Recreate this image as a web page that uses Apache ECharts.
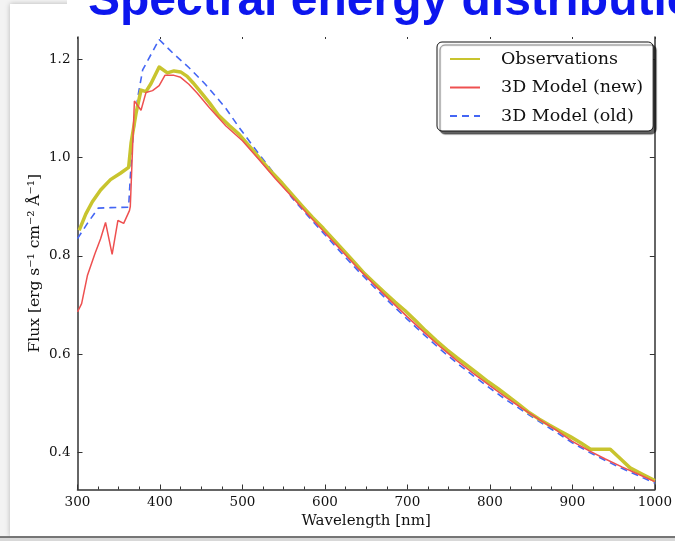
<!DOCTYPE html>
<html>
<head>
<meta charset="utf-8">
<script src="https://cdn.jsdelivr.net/npm/echarts@6/dist/echarts.min.js"></script>
<style>
html,body{margin:0;padding:0;background:#fff;}
#chart{width:675px;height:541px;}
</style>
</head>
<body>
<div id="chart"></div>
<script>
// ---- data ----
const titleText = 'Spectral energy distribution';
const xTicks = [300, 400, 500, 600, 700, 800, 900, 1000];
const yTicks = [0.4, 0.6, 0.8, 1.0, 1.2];
const seriesNames = ['Observations', '3D Model (new)', '3D Model (old)'];

const obsWave = [302, 310, 318, 328, 340, 352, 362, 365, 371, 377, 383, 389, 399, 409, 417, 425, 433, 440, 450, 460, 471, 484, 496, 510, 522, 535, 548, 560, 572, 585, 598, 610, 622, 635, 648, 660, 672, 685, 697, 710, 722, 735, 748, 760, 772, 785, 798, 810, 822, 835, 848, 860, 872, 885, 898, 910, 922, 934, 946, 958, 970, 985, 1000];
const obsFlux = [0.852, 0.885, 0.910, 0.934, 0.955, 0.968, 0.980, 1.030, 1.090, 1.137, 1.134, 1.150, 1.184, 1.172, 1.176, 1.174, 1.165, 1.152, 1.132, 1.111, 1.086, 1.065, 1.047, 1.020, 0.996, 0.971, 0.948, 0.925, 0.902, 0.878, 0.856, 0.834, 0.812, 0.788, 0.764, 0.745, 0.726, 0.706, 0.689, 0.668, 0.648, 0.628, 0.609, 0.593, 0.578, 0.561, 0.544, 0.530, 0.515, 0.498, 0.481, 0.468, 0.456, 0.444, 0.432, 0.420, 0.407, 0.407, 0.407, 0.388, 0.369, 0.356, 0.343];

const newWave = [300, 305, 312, 321, 328, 334, 342, 349, 356, 363, 364, 369, 377, 383, 391, 399, 406, 417, 425, 435, 445, 460, 480, 500, 520, 540, 560, 580, 600, 620, 640, 660, 680, 700, 720, 740, 760, 780, 800, 820, 840, 860, 880, 900, 920, 940, 960, 980, 1000];
const newFlux = [0.686, 0.703, 0.760, 0.804, 0.835, 0.868, 0.803, 0.872, 0.866, 0.892, 0.900, 1.115, 1.096, 1.132, 1.136, 1.146, 1.167, 1.167, 1.163, 1.149, 1.131, 1.101, 1.064, 1.034, 0.996, 0.957, 0.920, 0.883, 0.847, 0.811, 0.775, 0.741, 0.708, 0.676, 0.645, 0.615, 0.587, 0.561, 0.536, 0.512, 0.489, 0.467, 0.446, 0.423, 0.404, 0.387, 0.371, 0.356, 0.341];

const oldWave = [300, 312, 325, 340, 362, 364, 367, 373, 379, 399, 417, 435, 455, 479, 496, 520, 545, 560, 580, 600, 620, 640, 660, 680, 700, 720, 740, 760, 780, 800, 820, 840, 860, 880, 900, 920, 940, 960, 980, 1000];
const oldFlux = [0.835, 0.866, 0.897, 0.898, 0.899, 0.960, 1.034, 1.122, 1.178, 1.240, 1.210, 1.183, 1.149, 1.102, 1.061, 1.007, 0.953, 0.918, 0.880, 0.843, 0.806, 0.770, 0.736, 0.703, 0.671, 0.640, 0.610, 0.582, 0.556, 0.531, 0.507, 0.485, 0.463, 0.442, 0.420, 0.401, 0.384, 0.368, 0.353, 0.338];

const pairs = (xs, ys) => xs.map((x, i) => [x, ys[i]]);

const serif = '"DejaVu Serif", serif';
const axisCol = '#333';
const yMin = 0.325, yMax = 1.245;

const chart = echarts.init(document.getElementById('chart'), null, {renderer: 'canvas'});
chart.setOption({
  backgroundColor: '#f3f3f3',
  animation: false,
  graphic: [
    {type: 'rect', z: -10, shape: {x: 10, y: 4, width: 670, height: 532}, style: {fill: '#fff', shadowBlur: 5, shadowColor: 'rgba(0,0,0,0.25)'}},
    {type: 'rect', z: -9, shape: {x: 67, y: 0, width: 610, height: 36}, style: {fill: '#fff'}},
    {type: 'rect', z: -9, shape: {x: 0, y: 537, width: 675, height: 4}, style: {fill: '#d8d8d8'}},
    {type: 'line', z: -8, shape: {x1: 0, y1: 537, x2: 675, y2: 537}, style: {stroke: '#555', lineWidth: 1.5}},
    {type: 'text', z: 100, x: 88, y: 2, style: {text: titleText, font: 'bold 48px "Liberation Sans", Arial, sans-serif', fill: '#0c16ee', align: 'left', verticalAlign: 'middle'}}
  ],
  grid: {left: 77.5, right: 15.5, top: 37, bottom: 51.5, containLabel: false},
  legend: {
    left: 437, top: 42,
    orient: 'vertical',
    itemWidth: 30, itemHeight: 14, itemGap: 8.5,
    padding: [7, 10, 5, 12],
    backgroundColor: '#fff',
    borderColor: '#111', borderWidth: 1, borderRadius: 5,
    shadowColor: 'rgba(0,0,0,0.6)', shadowOffsetX: 3, shadowOffsetY: 3, shadowBlur: 1,
    itemStyle: {opacity: 0},
    textStyle: {fontFamily: serif, fontSize: 17.5, color: '#111', lineHeight: 20, padding: [0, 0, 0, 16]},
    data: seriesNames
  },
  xAxis: [
    {
      type: 'value', min: 300, max: 1000, interval: 100, position: 'bottom',
      name: 'Wavelength [nm]', nameLocation: 'middle', nameGap: 24, nameMoveOverlap: false,
      nameTextStyle: {fontFamily: serif, fontSize: 15, color: '#111'},
      axisLine: {show: true, lineStyle: {color: axisCol, width: 1.5}},
      axisTick: {show: true, inside: true, length: 5, lineStyle: {color: axisCol}},
      minorTick: {show: true, splitNumber: 4, length: 3, lineStyle: {color: axisCol}},
      axisLabel: {show: true, margin: 6, fontFamily: serif, fontSize: 13.5, color: '#111', formatter: v => String(v)},
      splitLine: {show: false}
    },
    {
      type: 'value', min: 300, max: 1000, interval: 100, position: 'top',
      axisLine: {show: false},
      axisTick: {show: true, inside: true, length: 2, lineStyle: {color: axisCol}},
      axisLabel: {show: false}, splitLine: {show: false}
    }
  ],
  yAxis: [
    {
      type: 'value', min: yMin, max: yMax, position: 'left',
      name: 'Flux [erg s⁻¹ cm⁻² Å⁻¹]', nameLocation: 'middle', nameGap: 34.5, nameRotate: 90, nameMoveOverlap: false,
      nameTextStyle: {fontFamily: serif, fontSize: 15.5, color: '#111'},
      axisLine: {show: true, lineStyle: {color: axisCol, width: 1.5}},
      axisTick: {show: true, inside: true, length: 5, customValues: yTicks, lineStyle: {color: axisCol}},
      axisLabel: {show: true, margin: 7, customValues: yTicks, fontFamily: serif, fontSize: 13.5, color: '#111', formatter: v => v.toFixed(1)},
      splitLine: {show: false}
    },
    {
      type: 'value', min: yMin, max: yMax, position: 'right',
      axisLine: {show: true, lineStyle: {color: axisCol, width: 1.5}},
      axisTick: {show: true, inside: true, length: 5, customValues: yTicks, lineStyle: {color: axisCol}},
      axisLabel: {show: false}, splitLine: {show: false}
    }
  ],
  series: [
    {
      name: seriesNames[0], type: 'line', data: pairs(obsWave, obsFlux),
      symbol: 'none', showSymbol: false, z: 3,
      lineStyle: {color: '#c8c42e', width: 3.5, join: 'round'},
      itemStyle: {color: '#c8c42e'}
    },
    {
      name: seriesNames[1], type: 'line', data: pairs(newWave, newFlux),
      symbol: 'none', showSymbol: false, z: 4,
      lineStyle: {color: '#ee5050', width: 1.5},
      itemStyle: {color: '#ee5050'}
    },
    {
      name: seriesNames[2], type: 'line', data: pairs(oldWave, oldFlux),
      symbol: 'none', showSymbol: false, z: 2,
      lineStyle: {color: '#4466f4', width: 1.6, type: [7, 5]},
      itemStyle: {color: '#4466f4'}
    }
  ]
});
</script>
</body>
</html>
